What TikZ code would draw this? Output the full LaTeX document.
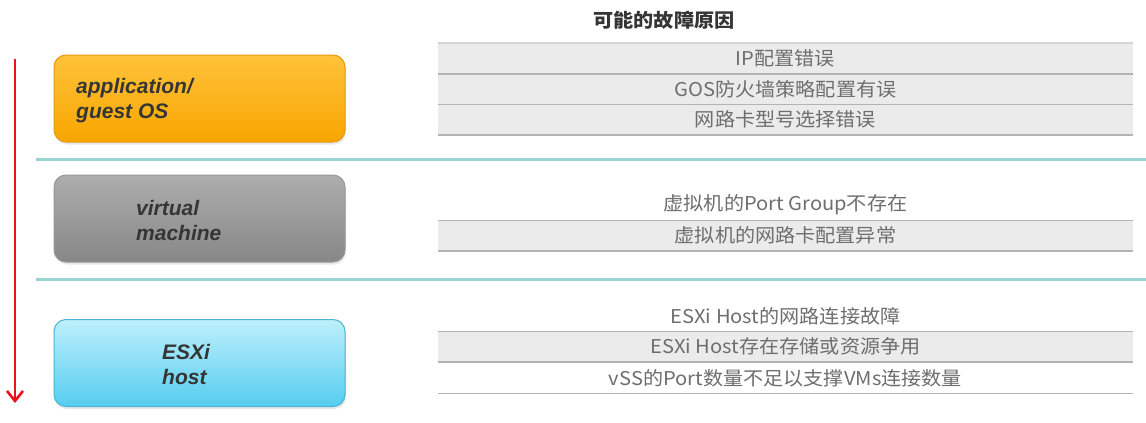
\documentclass[tikz,border=0pt]{standalone}
\usepackage{fontspec}
\setmainfont{Liberation Sans}
\newfontfamily\cjk[FakeStretch=1.06]{Noto Sans CJK SC}
\usetikzlibrary{shadows,arrows.meta}
\definecolor{rowfill}{HTML}{EBEBEB}
\definecolor{rowline}{HTML}{B3B3B3}
\definecolor{rowtext}{HTML}{6E6E6E}
\definecolor{sepline}{HTML}{98D4D2}
\definecolor{arrowred}{HTML}{E8141C}
\definecolor{orangetop}{HTML}{FFC23A}
\definecolor{orangebot}{HTML}{F8A600}
\definecolor{orangeline}{HTML}{E59B14}
\definecolor{graytop}{HTML}{ADADAD}
\definecolor{graybot}{HTML}{878787}
\definecolor{grayline}{HTML}{989898}
\definecolor{cyantop}{HTML}{BEF0FC}
\definecolor{cyanbot}{HTML}{55CDEF}
\definecolor{cyanline}{HTML}{4DB3D4}
\definecolor{boxtextcol}{HTML}{353535}
\begin{document}
\begin{tikzpicture}[x=1pt,y=-1pt,
  layerbox/.style={rounded corners=12pt, minimum width=291pt, minimum height=87pt,
    line width=1pt, inner sep=0pt,
    drop shadow={opacity=0.18, shadow xshift=1pt, shadow yshift=-2.5pt}},
  boxtext/.style={anchor=west, align=left, inner sep=0pt, text=boxtextcol,
    font=\fontsize{21}{25}\selectfont\bfseries\itshape},
  grayrow/.style={minimum width=695pt, minimum height=30.5pt, inner sep=0pt,
    fill=rowfill, text=rowtext, font=\cjk\fontsize{19}{22}\selectfont},
  whiterow/.style={grayrow, fill=none},
  rowrule/.style={draw=rowline, line width=1.6pt},
  seprule/.style={draw=sepline, line width=2.5pt},
  downarrow/.style={draw=arrowred, line width=2.6pt, -{Straight Barb[length=10pt,width=16pt,line width=2.6pt]}}
]
\useasboundingbox[fill=white] (0,0) rectangle (1146,423);

% separator lines
\coordinate (s1a) at (36,159.5);
\coordinate (s1b) at (1146,159.5);
\coordinate (s2a) at (36,279.5);
\coordinate (s2b) at (1146,279.5);
\draw[seprule] (s1a) -- (s1b);
\draw[seprule] (s2a) -- (s2b);

% red arrow
\coordinate (astart) at (15,59);
\coordinate (aend) at (15,403);
\draw[downarrow] (astart) -- (aend);

% layer boxes
\node[layerbox, draw=orangeline, top color=orangetop, bottom color=orangebot] (app) at (199.5,98.5) {};
\node[boxtext] (apptext) at (76,100.5) {application/\\guest OS};

\node[layerbox, draw=grayline, top color=graytop, bottom color=graybot] (vm) at (199.5,218.5) {};
\node[boxtext] (vmtext) at (136,220.5) {virtual\\machine};

\node[layerbox, draw=cyanline, top color=cyantop, bottom color=cyanbot] (esx) at (199.5,363) {};
\node[boxtext] (esxtext) at (162,364.5) {ESXi\\host};

% title
\node[text=boxtextcol, font=\cjk\fontsize{19}{22}\selectfont\bfseries] (title) at (664,20) {可能的故障原因};

% group 1
\node[grayrow] (r1) at (785.5,58.5) {IP配置错误};
\node[grayrow] (r2) at (785.5,89) {GOS防火墙策略配置有误};
\node[grayrow] (r3) at (785.5,119.5) {网路卡型号选择错误};
\draw[draw=rowline!55, line width=1.2pt] (r1.north west) -- (r1.north east);
\draw[rowrule] (r1.south west) -- (r1.south east);
\draw[rowrule] (r2.south west) -- (r2.south east);
\draw[rowrule] (r3.south west) -- (r3.south east);

% group 2
\node[whiterow] (r4) at (785.5,205) {虚拟机的Port Group不存在};
\node[grayrow] (r5) at (785.5,235.5) {虚拟机的网路卡配置异常};
\draw[rowrule] (r4.south west) -- (r4.south east);
\draw[rowrule] (r5.south west) -- (r5.south east);

% group 3
\node[whiterow] (r6) at (785.5,316) {ESXi Host的网路连接故障};
\node[grayrow] (r7) at (785.5,346.5) {ESXi Host存在存储或资源争用};
\node[whiterow] (r8) at (785.5,378) {vSS的Port数量不足以支撑VMs连接数量};
\draw[rowrule] (r6.south west) -- (r6.south east);
\draw[rowrule] (r7.south west) -- (r7.south east);
\draw[rowrule] (r8.south west) -- (r8.south east);
\end{tikzpicture}
\end{document}
